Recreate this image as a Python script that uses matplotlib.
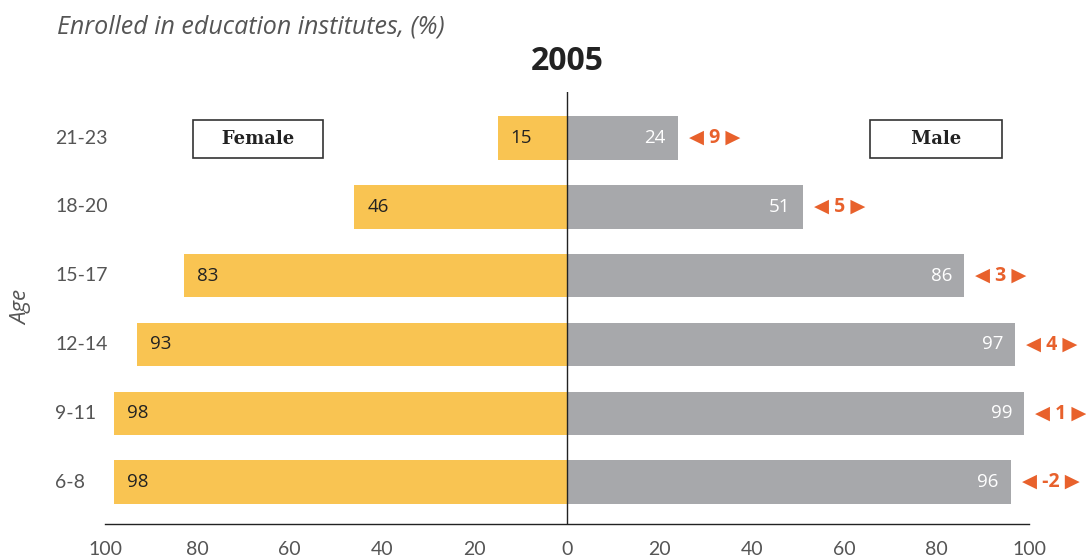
import numpy as np
import matplotlib.pyplot as plt

# Enrolment by age group, 2005
ages = ['6-8', '9-11', '12-14', '15-17', '18-20', '21-23']
female = [98, 98, 93, 83, 46, 15]
male = [96, 99, 97, 86, 51, 24]
gap = [-2, 1, 4, 3, 5, 9]
xticks = [-100, -80, -60, -40, -20, 0, 20, 40, 60, 80, 100]

yellow = '#F9C452'
grey = '#A7A8AB'
orange = '#E8612C'
txt_grey = '#555555'

fig = plt.figure(figsize=(10.86, 5.56), dpi=100)
ax = fig.add_axes([105 / 1086, 1 - 524 / 556, 924 / 1086, 432 / 556])

y = np.arange(len(ages))
ax.barh(y, [-f for f in female], height=0.63, color=yellow)
ax.barh(y, male, height=0.63, color=grey)

ax.set_xlim(-100, 100)
ax.set_ylim(-0.61, 5.67)
ax.axvline(0, color='#222222', lw=1.0)

for s in ['top', 'right', 'left']:
    ax.spines[s].set_visible(False)
ax.spines['bottom'].set_linewidth(1.0)
ax.spines['bottom'].set_color('#222222')

ax.set_xticks(xticks)
ax.set_xticklabels([str(abs(t)) for t in xticks], family='Lato', fontsize=14,
                   color=txt_grey)
ax.tick_params(axis='x', length=0, pad=12)
ax.set_yticks([])

# age labels, left aligned
for i, a in enumerate(ages):
    ax.annotate(a, xy=(0, i), xycoords=('figure fraction', 'data'),
                xytext=(55, 0), textcoords='offset pixels',
                ha='left', va='center', family='Lato', fontsize=14, color=txt_grey)

fig.text(22 / 1086, 1 - 307 / 556, 'Age', rotation=90, style='italic',
         family='Open Sans', fontsize=16, color=txt_grey, ha='center', va='center')

# value labels
for i in range(len(ages)):
    ax.annotate(str(female[i]), xy=(-female[i], i), xytext=(13, 0),
                textcoords='offset pixels', ha='left', va='center',
                family='Open Sans', fontsize=13.5, color='#222222')
    ax.annotate(str(male[i]), xy=(male[i], i), xytext=(-12, 0),
                textcoords='offset pixels', ha='right', va='center',
                family='Open Sans', fontsize=13.5, color='white')
    ax.annotate('\u25C0 ' + str(gap[i]) + ' \u25B6', xy=(male[i], i), xytext=(11, 0),
                textcoords='offset pixels', ha='left', va='center',
                family=['Open Sans', 'DejaVu Sans'], fontweight='bold',
                fontsize=14, color=orange, annotation_clip=False)

# Female / Male boxes
box = dict(boxstyle='square,pad=0.55', fc='white', ec='#333333', lw=1.2)
fig.text(258 / 1086, 1 - 139 / 556, '   Female   ', family='DejaVu Serif',
         fontweight='bold', fontsize=13, color='#222222', ha='center', va='center', bbox=box)
fig.text(936 / 1086, 1 - 139 / 556, '     Male     ', family='DejaVu Serif',
         fontweight='bold', fontsize=13, color='#222222', ha='center', va='center', bbox=box)

fig.text(57 / 1086, 1 - 27 / 556, 'Enrolled in education institutes, (%)',
         style='italic', family='Open Sans', fontsize=18, color=txt_grey,
         ha='left', va='center')
fig.text(567 / 1086, 1 - 62 / 556, '2005', family='Open Sans', fontweight='bold',
         fontsize=23, color='#222222', ha='center', va='center')

fig.savefig('out.png', dpi=100)
